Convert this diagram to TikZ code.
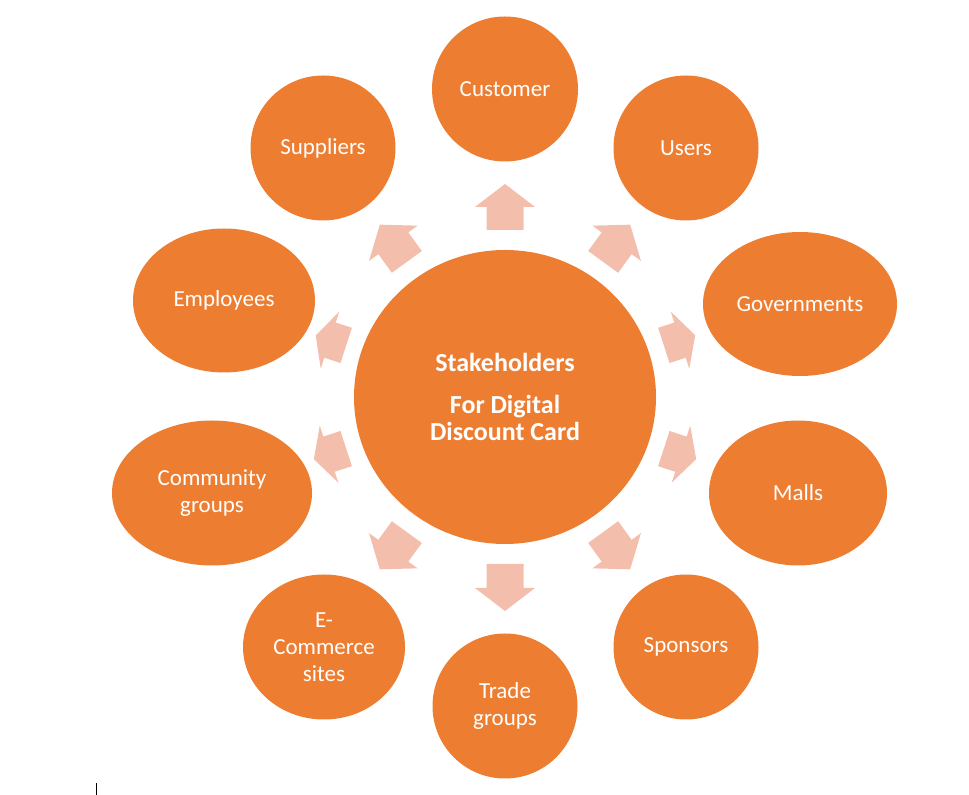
\documentclass[tikz,border=0pt]{standalone}
\usepackage{fontspec}
\setmainfont{Carlito}
\usetikzlibrary{shapes.geometric}
\definecolor{orng}{HTML}{ED7D31}
\definecolor{arrowc}{HTML}{F3BEAC}
\tikzset{
  stake/.style={ellipse, fill=orng, text=white, inner sep=0pt, align=center,
    font=\fontsize{23}{27}\selectfont},
  hub/.style={stake, font=\fontsize{26}{27}\selectfont\bfseries},
  blockarrow/.style={fill=arrowc}
}
\begin{document}
\begin{tikzpicture}[x=1pt,y=1pt]
\useasboundingbox (0,0) rectangle (969,795);
% centre
\node[hub, minimum width=302pt, minimum height=294pt] (c) at (505,398)
  {Stakeholders\\[15pt]For Digital\\Discount Card};
% outer stakeholders
\node[stake, minimum width=146pt, minimum height=145pt] (cust) at (505,706) {Customer};
\node[stake, minimum width=145pt, minimum height=145pt] (users) at (686,647) {Users};
\node[stake, minimum width=145pt, minimum height=145pt] (supp) at (323,647) {Suppliers};
\node[stake, minimum width=194pt, minimum height=144pt] (gov) at (800,491) {Governments};
\node[stake, minimum width=182pt, minimum height=144pt] (emp) at (224,494.5) {Employees};
\node[stake, minimum width=178pt, minimum height=145pt] (malls) at (798,302) {Malls};
\node[stake, minimum width=200pt, minimum height=145pt] (comm) at (212,302) {Community\\groups};
\node[stake, minimum width=145pt, minimum height=145pt] (spons) at (686,148) {Sponsors};
\node[stake, minimum width=162pt, minimum height=145pt] (ecom) at (324,148) {E-\\Commerce\\sites};
\node[stake, minimum width=145pt, minimum height=145pt] (trade) at (505,89) {Trade\\groups};
% diverging arrows
\foreach \a/\tp/\hb in {90/213/190, 54/213/190, 18/200/184, -18/201/185, -54/213/190,
    -90/214/191, -126/213/190, -162/201/185, 162/199/184, 126/213/190} {
  \begin{scope}[shift={(c.center)}, rotate=\a]
    \fill[blockarrow] (167,18.5) -- (\hb,18.5) -- (\hb,30) -- (\tp,0) -- (\hb,-30)
      -- (\hb,-18.5) -- (167,-18.5) -- cycle;
  \end{scope}
}
% text cursor mark
\draw[black, line width=1pt] (96,0) -- (96,12);
\end{tikzpicture}
\end{document}
